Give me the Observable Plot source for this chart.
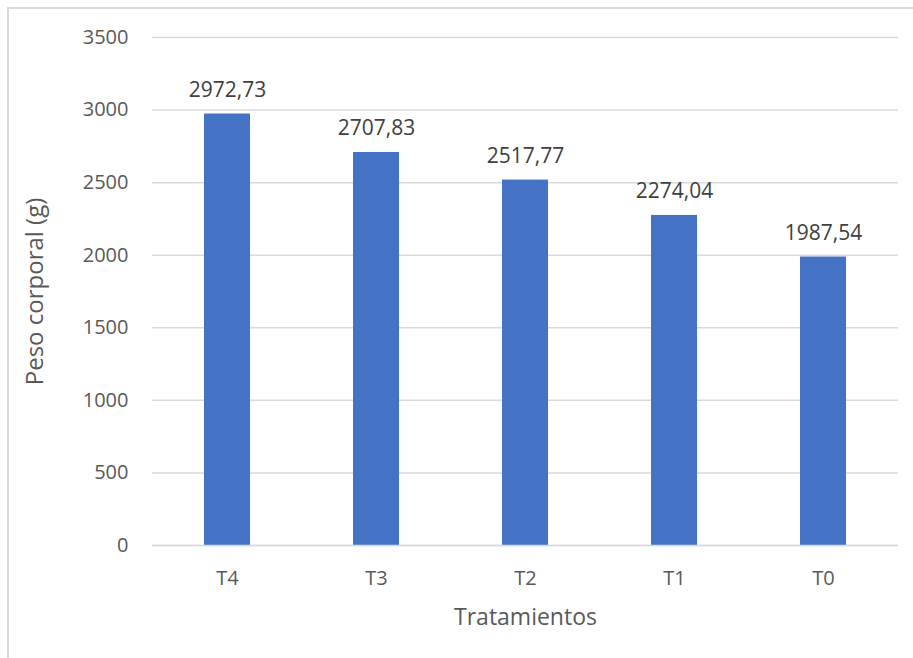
<!DOCTYPE html>
<html>
<head>
<meta charset="utf-8">
<script src="https://cdn.jsdelivr.net/npm/d3@7"></script>
<script src="https://cdn.jsdelivr.net/npm/@observablehq/plot@0.6"></script>
<style>
  html, body { margin: 0; padding: 0; background: #fff; }
  #wrap { position: relative; width: 913px; height: 658px; overflow: hidden; }
  #frame { position: absolute; left: 7px; top: 7px; width: 920px; height: 670px;
           border-left: 2px solid #d9d9d9; border-top: 2px solid #d9d9d9; box-sizing: border-box; }
  #chart { position: absolute; left: 0; top: 0; }
</style>
</head>
<body>
<div id="wrap"><div id="frame"></div><div id="chart"></div></div>
<script>
const categories = ["T4", "T3", "T2", "T1", "T0"];
const values = [2972.73, 2707.83, 2517.77, 2274.04, 1987.54];
const labels = ["2972,73", "2707,83", "2517,77", "2274,04", "1987,54"];
const yTicks = [0, 500, 1000, 1500, 2000, 2500, 3000, 3500];

const data = categories.map((c, i) => ({cat: c, value: values[i], label: labels[i]}));
const font = "'Open Sans', 'Liberation Sans', sans-serif";
const textColor = "#595959";

const chart = Plot.plot({
  width: 913,
  height: 658,
  marginLeft: 152,
  marginRight: 15,
  marginTop: 37,
  marginBottom: 113,
  style: {fontFamily: font, fontSize: "20px", color: textColor, background: "transparent"},
  x: {domain: categories, paddingInner: 0.69, paddingOuter: 0.345, label: null},
  y: {domain: [0, 3500], label: null},
  marks: [
    Plot.gridY(yTicks, {stroke: "#d9d9d9", strokeOpacity: 1, strokeWidth: 1.5}),
    Plot.axisY(yTicks, {tickSize: 0, tickPadding: 24, tickFormat: d => String(d), fill: textColor, fontSize: 20, label: null}),
    Plot.axisX({tickSize: 0, tickPadding: 25, fill: textColor, fontSize: 20, label: null}),
    Plot.barY(data, {x: "cat", y: "value", fill: "#4472c4"}),
    Plot.ruleY([0], {stroke: "#d9d9d9", strokeWidth: 1.5}),
    Plot.text(data, {x: "cat", y: "value", text: "label", lineAnchor: "bottom", dy: -17, fill: "#404040", fontSize: 21}),
    Plot.text(["Tratamientos"], {frameAnchor: "bottom", dy: 79, fill: textColor, fontSize: 23}),
    Plot.text(["Peso corporal (g)"], {frameAnchor: "left", textAnchor: "middle", dx: -117, rotate: -90, fill: textColor, fontSize: 24})
  ]
});
document.getElementById("chart").appendChild(chart);
</script>
</body>
</html>
